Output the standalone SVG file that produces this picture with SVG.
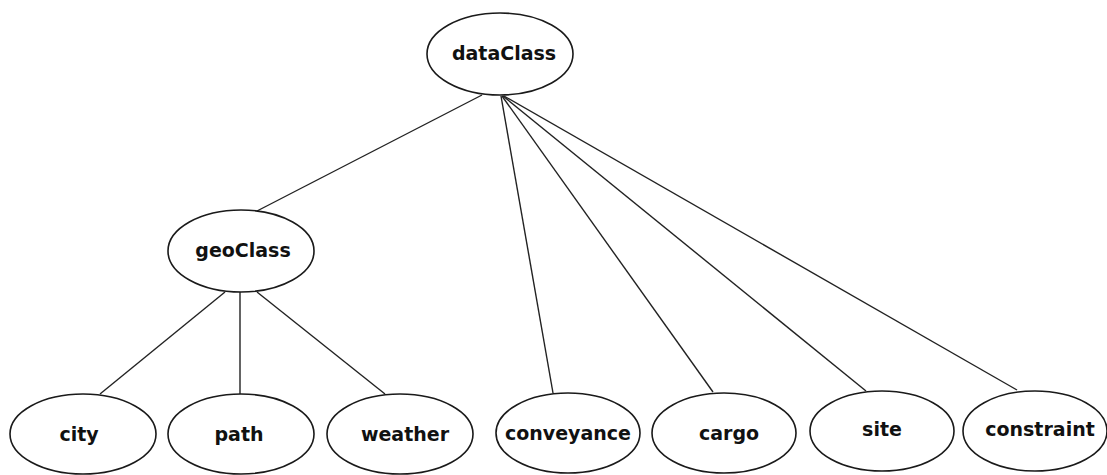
<svg xmlns="http://www.w3.org/2000/svg" width="1107" height="475" viewBox="0 0 1107 475">
  <style>
    .node ellipse { fill: #ffffff; stroke: #1a1a1a; stroke-width: 1.6; }
    .node text { font-family: "DejaVu Sans", "Liberation Sans", sans-serif; font-weight: bold; font-size: 19px; fill: #111111; text-anchor: middle; }
    #edges line { stroke: #222222; stroke-width: 1.4; }
  </style>
  <rect width="1107" height="475" fill="#ffffff"/>

  <!-- tree edges -->
  <g id="edges">
    <line x1="482" y1="95" x2="257" y2="211"/>
    <line x1="501" y1="96" x2="553" y2="393"/>
    <line x1="502" y1="96" x2="713" y2="392"/>
    <line x1="503" y1="96" x2="866" y2="391"/>
    <line x1="504" y1="96" x2="1017" y2="390"/>
    <line x1="225" y1="292" x2="100" y2="394"/>
    <line x1="240" y1="292" x2="240" y2="394"/>
    <line x1="257" y1="292" x2="385" y2="394"/>
  </g>

  <g id="dataClass" class="node">
    <ellipse cx="500" cy="54" rx="73" ry="41"/>
    <text x="504" y="60">dataClass</text>
  </g>
  <g id="geoClass" class="node">
    <ellipse cx="241" cy="251" rx="73" ry="41"/>
    <text x="243" y="257">geoClass</text>
  </g>
  <g id="city" class="node">
    <ellipse cx="83" cy="434" rx="73" ry="40"/>
    <text x="79" y="441">city</text>
  </g>
  <g id="path" class="node">
    <ellipse cx="241" cy="434" rx="73" ry="40"/>
    <text x="239" y="441">path</text>
  </g>
  <g id="weather" class="node">
    <ellipse cx="400" cy="434" rx="73" ry="40"/>
    <text x="405" y="441">weather</text>
  </g>
  <g id="conveyance" class="node">
    <ellipse cx="568" cy="433" rx="72" ry="40"/>
    <text x="568" y="440">conveyance</text>
  </g>
  <g id="cargo" class="node">
    <ellipse cx="724" cy="433" rx="72" ry="40"/>
    <text x="729" y="440">cargo</text>
  </g>
  <g id="site" class="node">
    <ellipse cx="882" cy="431" rx="72" ry="40"/>
    <text x="882" y="436">site</text>
  </g>
  <g id="constraint" class="node">
    <ellipse cx="1035" cy="431" rx="72" ry="40"/>
    <text x="1040" y="436">constraint</text>
  </g>
</svg>
